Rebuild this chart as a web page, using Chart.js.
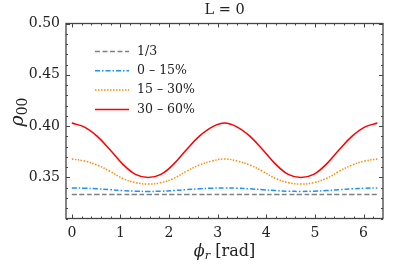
<!DOCTYPE html>
<html>
<head>
<meta charset="utf-8">
<script src="https://cdn.jsdelivr.net/npm/chart.js@4"></script>
<style>
  html, body { margin: 0; padding: 0; background: #fff; }
  #wrap { width: 407px; height: 266px; }
</style>
</head>
<body>
<div id="wrap"><canvas id="c"></canvas></div>
<script>
// values
var phi = [0, 0.2618, 0.5236, 0.7854, 1.0472, 1.3090, 1.5708, 1.8326, 2.0944, 2.3562, 2.6180, 2.8798,
  3.1416, 3.4034, 3.6652, 3.9270, 4.1888, 4.4506, 4.7124, 4.9742, 5.2360, 5.4978, 5.7596, 6.0214, 6.2832];
var third = [0.3333, 0.3333, 0.3333, 0.3333, 0.3333, 0.3333, 0.3333, 0.3333, 0.3333, 0.3333, 0.3333, 0.3333,
  0.3333, 0.3333, 0.3333, 0.3333, 0.3333, 0.3333, 0.3333, 0.3333, 0.3333, 0.3333, 0.3333, 0.3333, 0.3333];
var cent0_15 = [0.3397, 0.3395, 0.3389, 0.3381, 0.3372, 0.3366, 0.3364, 0.3366, 0.3372, 0.3381, 0.3389, 0.3395,
  0.3397, 0.3395, 0.3389, 0.3381, 0.3372, 0.3366, 0.3364, 0.3366, 0.3372, 0.3381, 0.3389, 0.3395, 0.3397];
var cent15_30 = [0.368, 0.366, 0.362, 0.356, 0.349, 0.345, 0.3435, 0.345, 0.349, 0.356, 0.362, 0.366,
  0.368, 0.366, 0.362, 0.356, 0.349, 0.345, 0.3435, 0.345, 0.349, 0.356, 0.362, 0.366, 0.368];
var cent30_60 = [0.403, 0.399, 0.390, 0.377, 0.363, 0.353, 0.350, 0.353, 0.363, 0.377, 0.390, 0.399,
  0.403, 0.399, 0.390, 0.377, 0.363, 0.353, 0.350, 0.353, 0.363, 0.377, 0.390, 0.399, 0.403];
var labels = ["1/3", "0 \u2013 15%", "15 \u2013 30%", "30 \u2013 60%"];
var xTicks = [0, 1, 2, 3, 4, 5, 6];
var yTicks = [0.35, 0.40, 0.45, 0.50];

function pts(ys) {
  var out = [];
  for (var i = 0; i < phi.length; i++) out.push({x: phi[i], y: ys[i]});
  return out;
}

var serif = "'DejaVu Serif', serif";

// inward ticks on all four sides, frame, title, axis labels, legend
var decor = {
  id: 'decor',
  afterDatasetsDraw: function(chart) {
    var ctx = chart.ctx, a = chart.chartArea;
    var xs = chart.scales.x, ys = chart.scales.y;
    ctx.save();
    ctx.strokeStyle = '#444';
    ctx.lineWidth = 1;
    var v, p;
    for (v = 0; v <= 6.4; v += 0.2) {
      p = Math.round(xs.getPixelForValue(v)) + 0.5;
      var major = Math.abs(v - Math.round(v)) < 1e-6;
      var len = major ? 4 : 2;
      ctx.beginPath();
      ctx.moveTo(p, a.bottom); ctx.lineTo(p, a.bottom - len);
      ctx.moveTo(p, a.top); ctx.lineTo(p, a.top + len);
      ctx.stroke();
    }
    for (var k = 31; k <= 50; k++) {
      v = k / 100;
      p = Math.round(ys.getPixelForValue(v)) + 0.5;
      var len2 = (k % 5 === 0) ? 4 : 2;
      ctx.beginPath();
      ctx.moveTo(a.left, p); ctx.lineTo(a.left + len2, p);
      ctx.moveTo(a.right, p); ctx.lineTo(a.right - len2, p);
      ctx.stroke();
    }
    ctx.lineWidth = 1.3;
    ctx.strokeRect(a.left, a.top, a.right - a.left, a.bottom - a.top);

    // legend
    var ds = chart.data.datasets;
    for (var i = 0; i < ds.length; i++) {
      var y = a.top + 28 + i * 19.3;
      ctx.beginPath();
      ctx.strokeStyle = ds[i].borderColor;
      ctx.lineWidth = ds[i].borderWidth;
      ctx.setLineDash(ds[i].borderDash || []);
      ctx.moveTo(a.left + 29, y); ctx.lineTo(a.left + 63, y);
      ctx.stroke();
      ctx.setLineDash([]);
      ctx.fillStyle = '#222';
      ctx.font = '12.5px ' + serif;
      ctx.textBaseline = 'middle';
      ctx.textAlign = 'left';
      ctx.fillText(ds[i].label, a.left + 71, y);
    }

    // title
    var cx = (a.left + a.right) / 2;
    ctx.fillStyle = '#222';
    ctx.textAlign = 'center';
    ctx.textBaseline = 'middle';
    ctx.font = '14.5px ' + serif;
    ctx.fillText('L = 0', cx, 10);

    // x label
    ctx.font = 'italic 16px ' + serif;
    ctx.textAlign = 'left';
    ctx.textBaseline = 'alphabetic';
    var w1 = ctx.measureText('\u03d5').width;
    ctx.font = 'italic 11.5px ' + serif;
    var w2 = ctx.measureText('r').width;
    ctx.font = '16px ' + serif;
    var w3 = ctx.measureText(' [rad]').width;
    var x0 = cx - (w1 + w2 + w3) / 2, by = 256;
    ctx.font = 'italic 16px ' + serif;
    ctx.fillText('\u03d5', x0, by);
    ctx.font = 'italic 11.5px ' + serif;
    ctx.fillText('r', x0 + w1, by + 3);
    ctx.font = '16px ' + serif;
    ctx.fillText(' [rad]', x0 + w1 + w2, by);

    // y label
    ctx.save();
    ctx.translate(23, 112);
    ctx.rotate(-Math.PI / 2);
    ctx.font = 'italic 19px ' + serif;
    var r1 = ctx.measureText('\u03c1').width;
    ctx.font = '14px ' + serif;
    var r2 = ctx.measureText('00').width;
    ctx.textAlign = 'left';
    ctx.font = 'italic 19px ' + serif;
    ctx.fillText('\u03c1', -(r1 + r2) / 2, 0);
    ctx.font = '14px ' + serif;
    ctx.fillText('00', -(r1 + r2) / 2 + r1, 4);
    ctx.restore();
    ctx.restore();
  }
};

new Chart(document.getElementById('c'), {
  type: 'line',
  data: {
    datasets: [
      { label: labels[0], data: pts(third), borderColor: '#808080', borderWidth: 1.5, borderDash: [5, 2.5] },
      { label: labels[1], data: pts(cent0_15), borderColor: '#1e90ff', borderWidth: 1.5, borderDash: [5, 2, 1.5, 2] },
      { label: labels[2], data: pts(cent15_30), borderColor: '#ff8c00', borderWidth: 1.5, borderDash: [1.5, 1.5] },
      { label: labels[3], data: pts(cent30_60), borderColor: '#ff0000', borderWidth: 1.5 }
    ]
  },
  options: {
    responsive: true,
    maintainAspectRatio: false,
    animation: false,
    events: [],
    layout: { padding: { top: 23.5, right: 24, left: 0, bottom: 0 } },
    elements: { point: { radius: 0 }, line: { tension: 0.4, fill: false } },
    plugins: { legend: { display: false }, title: { display: false }, tooltip: { enabled: false } },
    scales: {
      x: {
        type: 'linear', min: -0.12, max: 6.4,
        grid: { display: false, drawTicks: false },
        border: { display: false },
        afterBuildTicks: function(s) { s.ticks = xTicks.map(function(v) { return {value: v}; }); },
        afterFit: function(s) { s.height = 47.5; },
        ticks: { color: '#222', padding: 6, font: { family: serif, size: 14 }, callback: function(v) { return String(v); } }
      },
      y: {
        min: 0.31, max: 0.50,
        grid: { display: false, drawTicks: false },
        border: { display: false },
        afterBuildTicks: function(s) { s.ticks = yTicks.map(function(v) { return {value: v}; }); },
        afterFit: function(s) { s.width = 66; },
        ticks: { color: '#222', padding: 6, font: { family: serif, size: 14 }, callback: function(v) { return v.toFixed(2); } }
      }
    }
  },
  plugins: [decor]
});
</script>
</body>
</html>
